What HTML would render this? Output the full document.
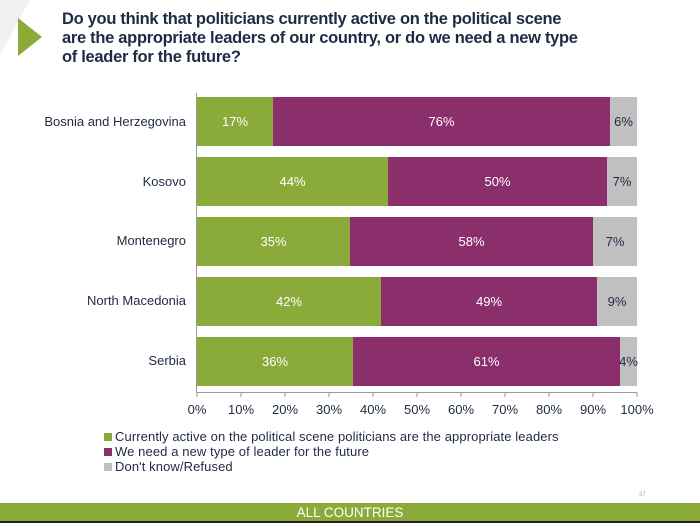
<!DOCTYPE html>
<html><head><style>
body{margin:0;width:700px;height:523px;background:#fff;position:relative;overflow:hidden;font-family:"Liberation Sans Narrow","Liberation Sans",sans-serif;}
.t{position:absolute;left:62px;top:10px;font:bold 16.5px/19px "Liberation Sans",sans-serif;color:#1f2a44;letter-spacing:-0.3px;}
.lab{position:absolute;right:514px;font-size:13px;color:#1f2a44;white-space:nowrap;}
.bar{position:absolute;height:49px;color:#fff;font-size:13px;display:flex;align-items:center;justify-content:center;}
.g{background:#8aab3a}.p{background:#8b2f6c}.r{background:#c0c0c0;color:#1f2a44}
.tk{position:absolute;top:402px;font-size:13px;color:#1f2a44;transform:translateX(-50%);}
.lg{position:absolute;left:104px;font-size:13px;color:#1f2a44;letter-spacing:0.1px;}
.lg i{display:inline-block;width:8px;height:8px;margin-right:3px;}
</style></head><body>
<svg style="position:absolute;left:0;top:0" width="60" height="70"><polygon points="0,0 30,0 0,55" fill="#f1f1f1"/><polygon points="18,18 42,37 18,56" fill="#8aab3a"/></svg>
<div class="t">Do you think that politicians currently active on the political scene<br>are the appropriate leaders of our country, or do we need a new type<br>of leader for the future?</div>
<div style="position:absolute;left:196px;top:93px;width:1px;height:299px;background:#999"></div>
<div style="position:absolute;left:196px;top:392px;width:441px;height:1px;background:#999"></div>
<div class="lab" style="top:114px">Bosnia and Herzegovina</div>
<div class="lab" style="top:174px">Kosovo</div>
<div class="lab" style="top:233px">Montenegro</div>
<div class="lab" style="top:293px">North Macedonia</div>
<div class="lab" style="top:353px">Serbia</div>
<div class="bar g" style="left:197px;top:97px;width:76px">17%</div><div class="bar p" style="left:273px;top:97px;width:337px">76%</div><div class="bar r" style="left:610px;top:97px;width:27px">6%</div>
<div class="bar g" style="left:197px;top:157px;width:191px">44%</div><div class="bar p" style="left:388px;top:157px;width:219px">50%</div><div class="bar r" style="left:607px;top:157px;width:30px">7%</div>
<div class="bar g" style="left:197px;top:217px;width:153px">35%</div><div class="bar p" style="left:350px;top:217px;width:243px">58%</div><div class="bar r" style="left:593px;top:217px;width:44px">7%</div>
<div class="bar g" style="left:197px;top:277px;width:184px">42%</div><div class="bar p" style="left:381px;top:277px;width:216px">49%</div><div class="bar r" style="left:597px;top:277px;width:40px">9%</div>
<div class="bar g" style="left:197px;top:337px;width:156px">36%</div><div class="bar p" style="left:353px;top:337px;width:267px">61%</div><div class="bar r" style="left:620px;top:337px;width:17px">4%</div>
<svg style="position:absolute;left:0;top:0" width="700" height="523"><g stroke="#999">
<line x1="197" y1="392" x2="197" y2="397"/><line x1="241" y1="392" x2="241" y2="397"/><line x1="285" y1="392" x2="285" y2="397"/><line x1="329" y1="392" x2="329" y2="397"/><line x1="373" y1="392" x2="373" y2="397"/><line x1="417" y1="392" x2="417" y2="397"/><line x1="461" y1="392" x2="461" y2="397"/><line x1="505" y1="392" x2="505" y2="397"/><line x1="549" y1="392" x2="549" y2="397"/><line x1="593" y1="392" x2="593" y2="397"/><line x1="637" y1="392" x2="637" y2="397"/></g></svg>
<div class="tk" style="left:197px">0%</div><div class="tk" style="left:241px">10%</div><div class="tk" style="left:285px">20%</div><div class="tk" style="left:329px">30%</div><div class="tk" style="left:373px">40%</div><div class="tk" style="left:417px">50%</div><div class="tk" style="left:461px">60%</div><div class="tk" style="left:505px">70%</div><div class="tk" style="left:549px">80%</div><div class="tk" style="left:593px">90%</div><div class="tk" style="left:637px">100%</div>
<div class="lg" style="top:429px"><i style="background:#8aab3a"></i>Currently active on the political scene politicians are the appropriate leaders</div>
<div class="lg" style="top:444px"><i style="background:#8b2f6c"></i>We need a new type of leader for the future</div>
<div class="lg" style="top:459px"><i style="background:#c0c0c0"></i>Don't know/Refused</div>
<div style="position:absolute;left:639px;top:492px;font-size:6px;color:#aaa">37</div>
<div style="position:absolute;left:0;top:503px;width:700px;height:18px;background:#8aab3a;color:#fff;font-size:13.5px;text-align:center;line-height:20px">ALL COUNTRIES</div>
<div style="position:absolute;left:0;top:521px;width:700px;height:2px;background:#222"></div>
</body></html>
